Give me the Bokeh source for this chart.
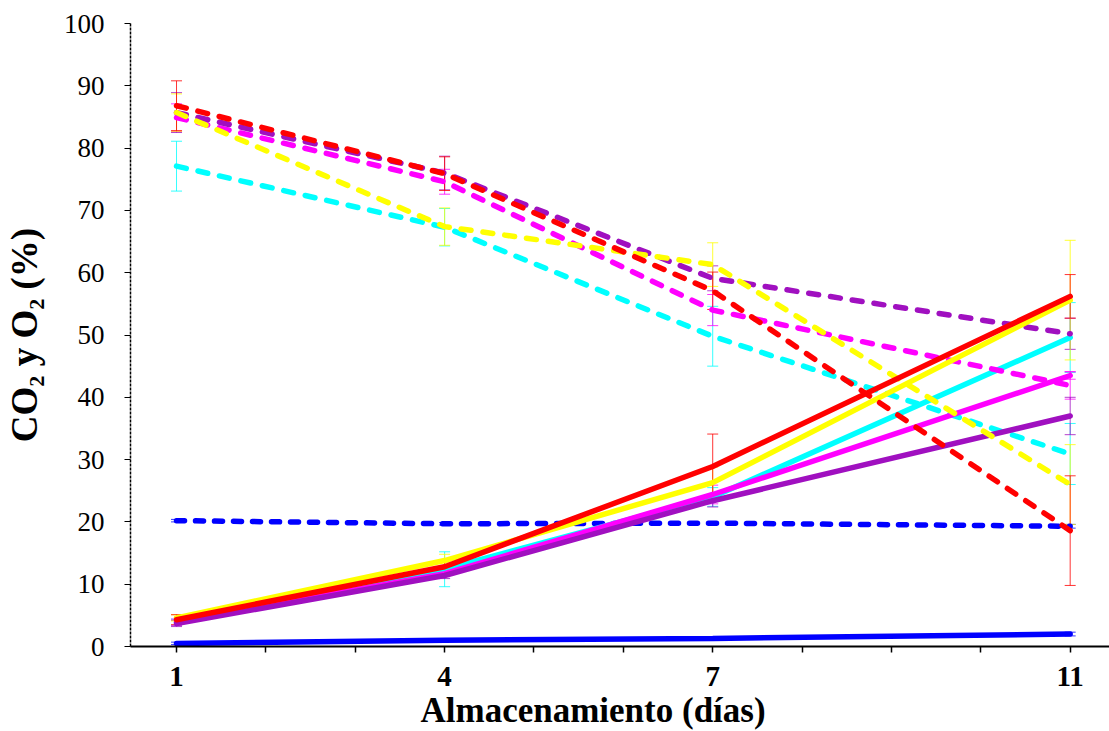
from bokeh.plotting import figure
from bokeh.models import ColumnDataSource, Whisker, TeeHead, FixedTicker, Title
from bokeh.embed import file_html
from bokeh.resources import INLINE

days = [1, 4, 7, 11]
x_ticks = [1, 2, 3, 4, 5, 6, 7, 8, 9, 10, 11]
x_labels = {1: "1", 4: "4", 7: "7", 11: "11"}
y_ticks = [0, 10, 20, 30, 40, 50, 60, 70, 80, 90, 100]

names = ["blue", "cyan", "magenta", "purple", "yellow", "red"]
colors = {"blue": "#0000FF", "cyan": "#00FFFF", "magenta": "#FF00FF",
          "purple": "#A010C0", "yellow": "#FFFF00", "red": "#FF0000"}

# CO2 (solid lines)
co2_blue = [0.5, 1.0, 1.3, 2.0]
co2_red = [4.3, 12.8, 28.9, 56.2]
co2_yellow = [4.6, 13.8, 26.3, 55.6]
co2_cyan = [3.9, 12.4, 24.0, 49.6]
co2_magenta = [3.9, 11.7, 24.4, 43.5]
co2_purple = [3.7, 11.4, 23.4, 37.0]

co2_err_blue = [0.2, 0.2, 0.2, 0.3]
co2_err_red = [0.8, 0.8, 5.2, 3.5]
co2_err_yellow = [0.5, 1.0, 2.5, 9.6]
co2_err_cyan = [0.5, 2.8, 1.5, 5.6]
co2_err_magenta = [0.5, 0.5, 1.5, 0.6]
co2_err_purple = [0.5, 0.5, 1.0, 3.0]

# O2 (dashed lines)
o2_blue = [20.2, 19.7, 19.8, 19.3]
o2_red = [86.8, 75.9, 57.1, 18.6]
o2_yellow = [85.7, 67.4, 61.3, 26.0]
o2_cyan = [77.1, 67.3, 49.8, 30.9]
o2_magenta = [84.9, 74.6, 54.0, 41.9]
o2_purple = [85.7, 76.0, 59.1, 50.2]

o2_err_blue = [0.2, 0.2, 0.2, 0.3]
o2_err_red = [4.0, 2.7, 3.0, 8.8]
o2_err_yellow = [3.0, 3.0, 3.5, 6.4]
o2_err_cyan = [4.0, 3.0, 4.8, 4.9]
o2_err_magenta = [2.2, 2.0, 2.5, 2.2]
o2_err_purple = [3.2, 2.7, 2.0, 2.5]

co2 = {"blue": co2_blue, "red": co2_red, "yellow": co2_yellow, "cyan": co2_cyan,
       "magenta": co2_magenta, "purple": co2_purple}
co2_err = {"blue": co2_err_blue, "red": co2_err_red, "yellow": co2_err_yellow,
           "cyan": co2_err_cyan, "magenta": co2_err_magenta, "purple": co2_err_purple}
o2 = {"blue": o2_blue, "red": o2_red, "yellow": o2_yellow, "cyan": o2_cyan,
      "magenta": o2_magenta, "purple": o2_purple}
o2_err = {"blue": o2_err_blue, "red": o2_err_red, "yellow": o2_err_yellow,
          "cyan": o2_err_cyan, "magenta": o2_err_magenta, "purple": o2_err_purple}

x_title = "Almacenamiento (días)"
y_title = "CO₂ y O₂ (%)"

FONT = "Liberation Serif"

p = figure(width=1109, height=731, x_range=(0.485, 11.44), y_range=(0, 100),
           output_backend="svg", toolbar_location=None,
           min_border_left=130, min_border_right=0, min_border_top=23,
           min_border_bottom=85)
p.outline_line_color = None
p.grid.visible = False
p.background_fill_color = "white"


def make_src(vals, errs):
    return ColumnDataSource(data=dict(
        x=days, y=vals,
        upper=[v + e for v, e in zip(vals, errs)],
        lower=[v - e for v, e in zip(vals, errs)]))


sources = []
for n in names:
    c = colors[n]
    s_o2 = make_src(o2[n], o2_err[n])
    s_co2 = make_src(co2[n], co2_err[n])
    sources.append((n, s_o2, s_co2))
    dash = "8 11" if n == "blue" else "10 12"
    p.line("x", "y", source=s_o2, line_color=c, line_width=5.5, line_dash=dash,
           line_cap="round")
    p.line("x", "y", source=s_co2, line_color=c, line_width=5.5, line_cap="round")

for n, s_o2, s_co2 in sources:
    c = colors[n]
    for s in (s_o2, s_co2):
        w = Whisker(source=s, base="x", upper="upper", lower="lower",
                    line_color=c, line_width=1, line_alpha=0.8,
                    upper_head=TeeHead(size=11, line_color=c, line_width=1, line_alpha=0.8),
                    lower_head=TeeHead(size=11, line_color=c, line_width=1, line_alpha=0.8))
        p.add_layout(w)

# axes
p.xaxis.ticker = FixedTicker(ticks=x_ticks)
p.xaxis.major_label_overrides = {t: x_labels.get(t, "") for t in x_ticks}
p.xaxis.minor_tick_line_color = None
p.xaxis.major_tick_out = 6
p.xaxis.major_tick_in = 0
p.xaxis.major_tick_line_width = 1.5
p.xaxis.axis_line_width = 2
p.xaxis.axis_line_color = "black"
p.xaxis.major_label_text_font = FONT
p.xaxis.major_label_text_font_style = "bold"
p.xaxis.major_label_text_font_size = "29px"
p.xaxis.major_label_text_color = "black"
p.xaxis.major_label_standoff = 14

# x axis title below the axis, offset to the left like in the reference
p.add_layout(Title(text=x_title, align="left", offset=290, standoff=0,
                   text_font=FONT, text_font_style="bold", text_font_size="35px",
                   text_color="black"), "below")

p.yaxis.ticker = FixedTicker(ticks=y_ticks)
p.yaxis.minor_tick_line_color = None
p.yaxis.major_tick_out = 6
p.yaxis.major_tick_in = 0
p.yaxis.axis_line_dash = "3 1"
p.yaxis.axis_line_width = 1.5
p.yaxis.axis_line_color = "black"
p.yaxis.major_label_text_font = FONT
p.yaxis.major_label_text_font_size = "27px"
p.yaxis.major_label_text_color = "black"
p.yaxis.major_label_standoff = 20
p.yaxis.axis_label = y_title
p.yaxis.axis_label_text_font = FONT
p.yaxis.axis_label_text_font_style = "bold"
p.yaxis.axis_label_text_font_size = "37px"
p.yaxis.axis_label_text_color = "black"
p.yaxis.axis_label_standoff = 16

open("out.html", "w").write(file_html(p, INLINE))
